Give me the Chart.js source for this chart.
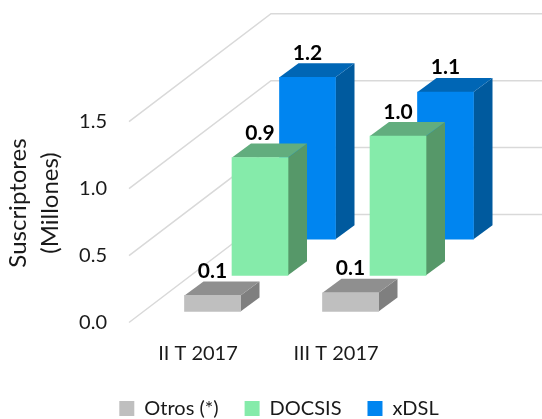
<!DOCTYPE html>
<html>
<head>
<meta charset="utf-8">
<title>Suscriptores</title>
<script src="https://cdn.jsdelivr.net/npm/chart.js@4"></script>
<style>
    html, body { margin: 0; padding: 0; background: #fff; }
    canvas { display: block; }
</style>
</head>
<body>
<canvas id="sub-chart" width="542" height="419"></canvas>
<script>
const categories = ['II T 2017', 'III T 2017'];
const otros = [0.12, 0.14];
const docsis = [0.88, 1.04];
const xdsl = [1.21, 1.10];

const fontName = 'Lato';
const wallDx = 142, wallDy = 108;      // fake perspective of the walls
const barDx = 19, barDy = 14;          // depth of one bar
const seriesDepth = [14.5, 62, 109.5]; // how far back each series stands
const topColors = ['#8f8f8f', '#62ad7e', '#0066b5'];
const sideColors = ['#7f7f7f', '#569869', '#005a9e'];

const fake3d = {
    id: 'fake3d',
    afterLayout(chart) {
        // legend sits off centre and lower than the layout wants
        chart.legend.left = 0;
        chart.legend.right = 558;
        chart.legend.top = 372.5;
    },
    afterDatasetsUpdate(chart) {
        chart.data.datasets.forEach((ds, i) => {
            const dx = seriesDepth[i];
            const dy = dx * wallDy / wallDx;
            chart.getDatasetMeta(i).data.forEach(bar => {
                bar.x += dx;
                bar.y -= dy;
                bar.base -= dy;
            });
        });
    },
    beforeDatasetsDraw(chart) {
        const ctx = chart.ctx;
        const yScale = chart.scales.y;
        const left = chart.chartArea.left;
        ctx.save();
        ctx.strokeStyle = '#d9d9d9';
        ctx.lineWidth = 1.5;
        yScale.ticks.forEach(t => {
            const y = yScale.getPixelForValue(t.value);
            ctx.beginPath();
            ctx.moveTo(left, y);
            ctx.lineTo(left + wallDx, y - wallDy);
            ctx.lineTo(chart.width, y - wallDy);
            ctx.stroke();
        });
        ctx.restore();
    },
    beforeDatasetDraw(chart, args) {
        const ctx = chart.ctx;
        const i = args.index;
        args.meta.data.forEach(bar => {
            const l = bar.x - bar.width / 2;
            const r = bar.x + bar.width / 2;
            ctx.fillStyle = sideColors[i];
            ctx.beginPath();
            ctx.moveTo(r, bar.y);
            ctx.lineTo(r + barDx, bar.y - barDy);
            ctx.lineTo(r + barDx, bar.base - barDy);
            ctx.lineTo(r, bar.base);
            ctx.fill();
            ctx.fillStyle = topColors[i];
            ctx.beginPath();
            ctx.moveTo(l, bar.y);
            ctx.lineTo(l + barDx, bar.y - barDy);
            ctx.lineTo(r + barDx, bar.y - barDy);
            ctx.lineTo(r, bar.y);
            ctx.fill();
        });
    },
    afterDatasetsDraw(chart) {
        const ctx = chart.ctx;
        ctx.save();
        ctx.fillStyle = '#000';
        ctx.font = 'bold 21px ' + fontName;
        ctx.textAlign = 'center';
        ctx.textBaseline = 'alphabetic';
        chart.data.datasets.forEach((ds, i) => {
            chart.getDatasetMeta(i).data.forEach((bar, j) => {
                ctx.fillText(ds.data[j].toFixed(1), bar.x, bar.y - 17.5);
            });
        });
        ctx.restore();
    },
    afterDraw(chart) {
        // two line axis title, centred higher than the plot area
        const ctx = chart.ctx;
        ctx.save();
        ctx.fillStyle = '#1a1a1a';
        ctx.font = '24px ' + fontName;
        ctx.textAlign = 'center';
        ctx.textBaseline = 'alphabetic';
        ctx.translate(26, 203);
        ctx.rotate(-Math.PI / 2);
        ctx.fillText('Suscriptores', 0, 0);
        ctx.fillText('(Millones)', 0, 32);
        ctx.restore();
    }
};

new Chart(document.getElementById('sub-chart'), {
    type: 'bar',
    data: {
        labels: categories,
        datasets: [
            { label: 'Otros (*)', data: otros, backgroundColor: '#bfbfbf' },
            { label: 'DOCSIS', data: docsis, backgroundColor: '#85ebaa' },
            { label: 'xDSL', data: xdsl, backgroundColor: '#0085f0' }
        ]
    },
    options: {
        responsive: false,
        animation: false,
        layout: { padding: { top: 121.7, right: 137, left: 0, bottom: -9.5 } },
        datasets: { bar: { grouped: false, barThickness: 56, clip: false } },
        plugins: {
            tooltip: { enabled: false },
            legend: {
                position: 'bottom',
                labels: {
                    boxWidth: 15,
                    boxHeight: 15,
                    padding: 26,
                    color: '#1a1a1a',
                    font: { family: fontName, size: 20 }
                }
            }
        },
        scales: {
            x: {
                grid: { display: false },
                border: { display: false },
                afterFit(scale) { scale.height = 50; },
                ticks: {
                    color: '#1a1a1a',
                    padding: 11,
                    maxRotation: 0,
                    font: { family: fontName, size: 20 }
                }
            },
            y: {
                min: 0,
                max: 1.5,
                grid: { display: false },
                border: { display: false },
                afterFit(scale) { scale.width = 129; },
                ticks: {
                    stepSize: 0.5,
                    color: '#1a1a1a',
                    padding: 14,
                    font: { family: fontName, size: 20 },
                    callback: value => value.toFixed(1)
                }
            }
        }
    },
    plugins: [fake3d]
});
</script>
</body>
</html>
